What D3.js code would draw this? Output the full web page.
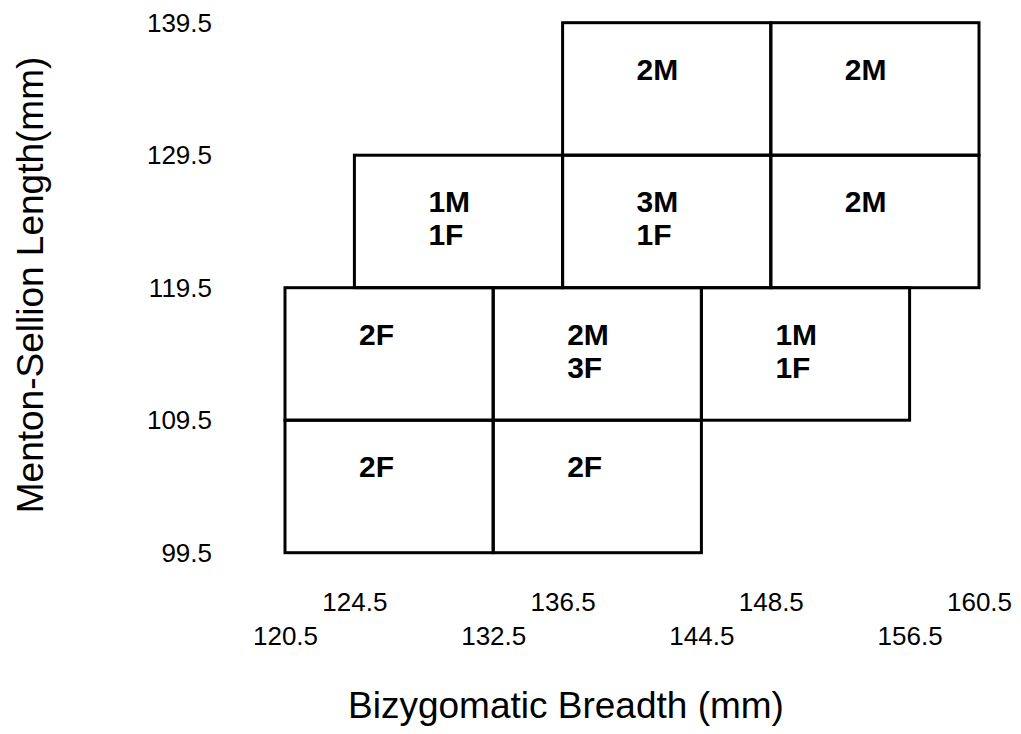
<!DOCTYPE html>
<html>
<head>
<meta charset="utf-8">
<script src="https://cdn.jsdelivr.net/npm/d3@7"></script>
<style>
  html, body { margin: 0; padding: 0; background: #fff; }
  svg { display: block; font-family: "Liberation Sans", Arial, sans-serif; }
</style>
</head>
<body>
<svg id="chart" width="1021" height="734"></svg>
<script>
// Data: lower-left corner of each bin (bins are 12 mm wide, 10 mm tall)
const cellBreadthStart = [120.5, 132.5, 120.5, 132.5, 144.5, 124.5, 136.5, 148.5, 136.5, 148.5];
const cellLengthStart  = [ 99.5,  99.5, 109.5, 109.5, 109.5, 119.5, 119.5, 119.5, 129.5, 129.5];
const maleCounts       = [0, 0, 0, 2, 1, 1, 3, 2, 2, 2];
const femaleCounts     = [2, 2, 2, 3, 1, 1, 1, 0, 0, 0];
const binWidth = 12;
const binHeight = 10;

const yTicks = [99.5, 109.5, 119.5, 129.5, 139.5];
const xTicksUpper = [124.5, 136.5, 148.5, 160.5];
const xTicksLower = [120.5, 132.5, 144.5, 156.5];

const xTitle = "Bizygomatic Breadth (mm)";
const yTitle = "Menton-Sellion Length(mm)";

const svg = d3.select("#chart");

const x = d3.scaleLinear().domain([120.5, 160.5]).range([285, 979]);
const y = d3.scaleLinear().domain([99.5, 139.5]).range([552.7, 22.7]);

const cells = cellBreadthStart.map((b, i) => {
  const lines = [];
  if (maleCounts[i] > 0) lines.push(maleCounts[i] + "M");
  if (femaleCounts[i] > 0) lines.push(femaleCounts[i] + "F");
  return { b, l: cellLengthStart[i], lines };
});

// Cells
const g = svg.append("g");
g.selectAll("rect.cell")
  .data(cells)
  .join("rect")
  .attr("class", "cell")
  .attr("x", d => x(d.b))
  .attr("y", d => y(d.l + binHeight))
  .attr("width", d => x(d.b + binWidth) - x(d.b))
  .attr("height", d => y(d.l) - y(d.l + binHeight))
  .attr("fill", "none")
  .attr("stroke", "#000")
  .attr("stroke-width", 3);

// Cell labels
const labels = g.selectAll("text.lab")
  .data(cells)
  .join("text")
  .attr("class", "lab")
  .attr("x", d => x(d.b) + 74)
  .attr("y", d => y(d.l + binHeight) + 57)
  .attr("font-size", 30)
  .attr("font-weight", "bold")
  .attr("fill", "#000");
labels.selectAll("tspan")
  .data(d => d.lines.map(t => ({ t, x: x(d.b) + 74 })))
  .join("tspan")
  .attr("x", d => d.x)
  .attr("dy", (d, i) => i === 0 ? 0 : 33)
  .text(d => d.t);

// Y axis
const yAxis = svg.append("g")
  .attr("transform", "translate(215,0)")
  .call(d3.axisLeft(y).tickValues(yTicks).tickSize(0).tickPadding(3).tickFormat(d3.format(".1f")));
yAxis.select(".domain").remove();
yAxis.selectAll("text").attr("font-size", 26).attr("font-family", "Liberation Sans, Arial, sans-serif").attr("fill", "#000");

// X axes (two staggered rows)
const xAxisUpper = svg.append("g")
  .attr("transform", "translate(0,590)")
  .call(d3.axisBottom(x).tickValues(xTicksUpper).tickSize(0).tickPadding(3).tickFormat(d3.format(".1f")));
const xAxisLower = svg.append("g")
  .attr("transform", "translate(0,623.5)")
  .call(d3.axisBottom(x).tickValues(xTicksLower).tickSize(0).tickPadding(3).tickFormat(d3.format(".1f")));
[xAxisUpper, xAxisLower].forEach(a => {
  a.select(".domain").remove();
  a.selectAll("text").attr("font-size", 26).attr("font-family", "Liberation Sans, Arial, sans-serif").attr("fill", "#000");
});

// Axis titles
svg.append("text")
  .attr("x", 566)
  .attr("y", 718)
  .attr("text-anchor", "middle")
  .attr("font-size", 37)
  .attr("fill", "#000")
  .text(xTitle);

svg.append("text")
  .attr("transform", "translate(43,285) rotate(-90)")
  .attr("text-anchor", "middle")
  .attr("font-size", 37)
  .attr("fill", "#000")
  .text(yTitle);
</script>
</body>
</html>
